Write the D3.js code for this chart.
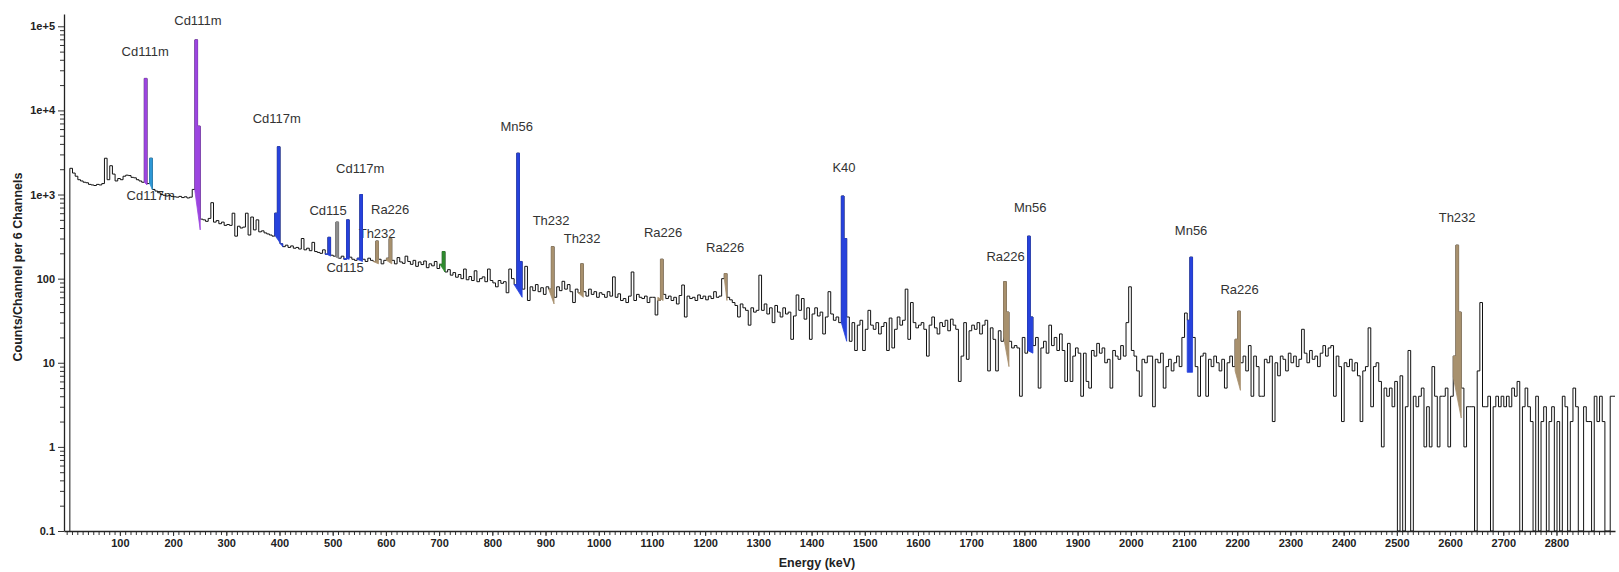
<!DOCTYPE html>
<html>
<head>
<meta charset="utf-8">
<script src="https://cdn.jsdelivr.net/npm/d3@7"></script>
<style>
	body { margin: 0; background: #fff; }
	svg { display: block; font-family: Arial, 'Liberation Sans', sans-serif; }
</style>
</head>
<body>
<svg id="canvas"></svg>
<script>
// spectrum: counts per 6 channels, 5 keV bins starting at 6 keV
const binStart = 6;
const binWidth = 5;
const counts = [
	// 6 - 106 keV
	2050, 1800, 1650, 1500, 1450, 1400, 1380, 1320, 1300, 1280, 1320, 1300, 1350, 2700, 1500, 2200, 1750, 1450, 1550, 1500,
	// 106 - 206
	1650, 1700, 1680, 1600, 1580, 1500, 1450, 1400, 24000, 1350, 2700, 1150, 1100, 1050, 1000, 980, 960, 970, 950, 940,
	// 206 - 306
	930, 950, 920, 940, 910, 930, 1150, 69000, 6500, 510, 500, 480, 520, 800, 470, 490, 450, 470, 430, 440,
	// 306 - 406
	430, 600, 320, 420, 400, 410, 600, 330, 540, 380, 500, 360, 370, 350, 340, 330, 320, 600, 3700, 260,
	// 406 - 506
	240, 250, 235, 245, 230, 235, 225, 300, 220, 230, 215, 270, 210, 205, 200, 220, 195, 310, 190, 185,
	// 506 - 606
	470, 175, 185, 170, 500, 180, 170, 165, 175, 1000, 170, 160, 175, 165, 160, 280, 170, 150, 165, 175,
	// 606 - 706
	300, 165, 150, 178, 158, 152, 185, 160, 148, 165, 140, 158, 147, 162, 135, 150, 142, 160, 132, 148,
	// 706 - 806
	210, 120, 128, 110, 118, 104, 112, 100, 130, 97, 106, 95, 124, 92, 100, 105, 92, 130, 95, 89,
	// 806 - 906
	80, 95, 88, 92, 68, 130, 100, 85, 3100, 160, 75, 140, 55, 80, 72, 85, 70, 78, 65, 80,
	// 906 - 1006
	75, 240, 60, 80, 72, 93, 75, 85, 70, 52, 75, 68, 150, 70, 62, 75, 65, 70, 60, 68,
	// 1006 - 1106
	65, 60, 70, 62, 105, 60, 66, 55, 58, 52, 62, 120, 55, 65, 60, 58, 62, 52, 60, 60,
	// 1106 - 1206
	37, 55, 170, 65, 58, 62, 55, 60, 50, 63, 84, 35, 62, 58, 60, 55, 64, 58, 62, 56,
	// 1206 - 1306
	62, 58, 70, 60, 62, 100, 115, 60, 56, 52, 48, 35, 50, 45, 42, 28, 45, 40, 42, 110,
	// 1306 - 1406
	42, 50, 38, 45, 30, 48, 40, 35, 45, 38, 40, 19, 36, 64, 42, 58, 33, 45, 19, 38,
	// 1406 - 1506
	45, 36, 40, 22, 35, 70, 38, 32, 35, 30, 960, 300, 35, 18, 30, 14, 28, 32, 14, 25,
	// 1506 - 1606
	42, 28, 25, 30, 22, 27, 30, 14, 34, 15, 25, 35, 28, 32, 75, 19, 52, 30, 26, 28,
	// 1606 - 1706
	30, 25, 12, 28, 35, 26, 22, 30, 27, 32, 24, 33, 28, 25, 6, 12, 30, 11, 24, 28,
	// 1706 - 1806
	25, 30, 22, 28, 32, 8, 26, 19, 8, 24, 18, 92, 40, 18, 15, 16, 15, 4, 20, 13,
	// 1806 - 1906
	320, 35, 16, 20, 5, 15, 18, 13, 28, 16, 20, 14, 22, 14, 6, 17, 6, 12, 15, 13,
	// 1906 - 2006
	4, 13, 6, 5, 14, 12, 17, 13, 15, 10, 11, 5, 14, 12, 11, 16, 12, 30, 80, 14,
	// 2006 - 2106
	12, 8, 4, 11, 10, 12, 12, 3, 11, 10, 13, 5, 9, 11, 8, 10, 12, 9, 20, 39,
	// 2106 - 2206
	32, 180, 20, 9, 4, 12, 13, 4, 11, 9, 12, 10, 8, 11, 5, 10, 12, 9, 19, 41,
	// 2206 - 2306
	10, 12, 8, 16, 4, 12, 9, 4, 4, 11, 10, 12, 2, 10, 7, 12, 11, 8, 13, 10,
	// 2306 - 2406
	12, 9, 11, 25, 13, 10, 14, 11, 12, 9, 13, 16, 12, 15, 16, 4, 12, 9, 2, 10,
	// 2406 - 2506
	9, 11, 8, 10, 7, 2, 8, 9, 26, 3, 9, 10, 6, 1, 5, 4, 5, 3, 6, 0,
	// 2506 - 2606
	7, 0, 3, 14, 0, 4, 3, 4, 5, 1, 3, 1, 9, 4, 1, 4, 4, 5, 1, 4,
	// 2606 - 2706
	12, 250, 40, 5, 1, 3, 3, 3, 0, 8, 52, 3, 3, 4, 0, 3, 4, 3, 4, 3,
	// 2706 - 2806
	4, 3, 5, 4, 6, 0, 3, 5, 3, 2, 0, 4, 0, 2, 3, 0, 2, 3, 0, 2,
	// 2806 - 2911
	0, 4, 3, 0, 2, 5, 3, 0, 0, 3, 2, 2, 0, 4, 2, 4, 2, 0, 0, 4, 4
];

// identified peak regions
const peakName = ['Cd111m', 'Cd117m', 'Cd111m', 'Cd117m', 'Cd115', '', 'Cd115', 'Cd117m', 'Th232', 'Ra226', '',
	'Mn56', 'Th232', 'Th232', 'Ra226', 'Ra226', 'K40', 'Ra226', 'Mn56', 'Mn56', 'Ra226', 'Th232'];
const peakGroup = ['cd111', 'cd117low', 'cd111', 'act', 'act', 'annih', 'act', 'act', 'nat', 'nat', 'other',
	'act', 'nat', 'nat', 'nat', 'nat', 'act', 'nat', 'act', 'act', 'nat', 'nat'];
const peakLo = [146, 156, 241, 391, 486, 506, 521, 546, 576, 601, 701, 841, 906, 961, 1111, 1236, 1456, 1761, 1806, 2106, 2196, 2606];
const peakHi = [151, 161, 251, 406, 496, 511, 531, 556, 586, 611, 711, 856, 916, 971, 1121, 1241, 1466, 1771, 1816, 2116, 2206, 2621];
const peakBaseLeft = [1400, 1350, 1100, 330, 200, 180, 175, 170, 160, 165, 150, 85, 75, 68, 60, 100, 30, 20, 14, 7.7, 8, 6.8];
const peakBaseRight = [1300, 1150, 380, 240, 185, 175, 170, 160, 150, 150, 120, 60, 50, 60, 55, 55, 18, 9, 13, 7.7, 4.7, 2.2];
// where each peak label sits, [keV, counts]
const labelAt = [[147.5, 43900], [157.9, 862], [246.6, 102600], [395, 7100], [491.4, 572], null, [523.4, 120],
	[551.6, 1807], [583.5, 305], [608, 588], null, [846, 5623], [910.5, 435], [968.8, 266], [1121, 313],
	[1237.6, 205], [1461, 1832], [1764.7, 160], [1810.8, 621], [2113.3, 331], [2204.5, 65.8], [2613.3, 472]];

// axis ticks
const xTickValues = d3.range(100, 2900, 100);
const yTickValues = [0.1, 1, 10, 100, 1000, 10000, 100000];
const yTickLabels = ['0.1', '1', '10', '100', '1e+3', '1e+4', '1e+5'];

const w = 1619;
const h = 572;

const svg = d3.select('#canvas').attr('width', w).attr('height', h);

const x = d3.scaleLinear().domain([-5, 2910]).range([64, 1615]);
const y = d3.scaleLog().domain([0.1, 1.4e5]).range([531, 14]);

const color = d3
	.scaleOrdinal()
	.domain(['cd111', 'cd117low', 'act', 'annih', 'other', 'nat'])
	.range(['#9c45e0', '#2f98d6', '#2742dc', '#8c8c8c', '#2e8b2e', '#a8916e']);

const floor = (c) => Math.max(c, 0.1);

// peak labels go under the spectrum line
svg
	.append('g')
	.selectAll('text')
	.data(peakName.map((name, i) => ({ name, at: labelAt[i] })).filter((d) => d.at))
	.enter()
	.append('text')
	.attr('x', (d) => x(d.at[0]))
	.attr('y', (d) => y(d.at[1]))
	.attr('text-anchor', 'middle')
	.attr('font-size', 13)
	.attr('fill', '#333')
	.text((d) => d.name);

// spectrum
const points = [[binStart, 0.1]];
counts.forEach((c, i) => points.push([binStart + i * binWidth, floor(c)]));
points.push([binStart + counts.length * binWidth, floor(counts[counts.length - 1])]);

svg.append('clipPath').attr('id', 'plot').append('rect').attr('x', 64).attr('y', 14).attr('width', 1551).attr('height', 517);

const line = d3.line().curve(d3.curveStepAfter).x((d) => x(d[0])).y((d) => y(d[1]));

svg
	.append('path')
	.attr('clip-path', 'url(#plot)')
	.attr('d', line(points))
	.attr('fill', 'none')
	.attr('stroke', '#111')
	.attr('stroke-width', 1);

// coloured peak regions
peakLo.forEach((lo, i) => {
	const hi = peakHi[i];
	const p = d3.path();
	p.moveTo(x(lo), y(peakBaseLeft[i]));
	counts.forEach((c, j) => {
		const e = binStart + j * binWidth;
		if (e >= lo && e < hi) {
			p.lineTo(x(e), y(floor(c)));
			p.lineTo(x(e + binWidth), y(floor(c)));
		}
	});
	p.lineTo(x(hi), y(peakBaseRight[i]));
	p.closePath();
	svg
		.append('path')
		.attr('d', p.toString())
		.attr('fill', color(peakGroup[i]))
		.attr('stroke', color(peakGroup[i]))
		.attr('stroke-width', 0.8)
		.attr('stroke-linejoin', 'round');
});

// x axis
svg
	.append('g')
	.attr('transform', 'translate(0,531)')
	.call(d3.axisBottom(x).tickValues(d3.range(0, 2910, 10)).tickSize(4).tickSizeOuter(0).tickFormat(''))
	.call((g) => g.select('.domain').remove());

svg
	.append('g')
	.attr('transform', 'translate(0,531)')
	.call(d3.axisBottom(x).tickValues(xTickValues).tickSize(5).tickSizeOuter(0).tickFormat(d3.format('d')))
	.call((g) => g.selectAll('text').attr('font-size', 11).attr('font-weight', 'bold').attr('fill', '#222'));

// y axis
const yMinor = [];
yTickValues.forEach((v) => {
	for (let m = 2; m < 10; m++) {
		if (v * m < 1.4e5) yMinor.push(v * m);
	}
});

svg
	.append('g')
	.attr('transform', 'translate(64,0)')
	.call(d3.axisLeft(y).tickValues(yMinor).tickSize(4).tickSizeOuter(0).tickFormat(''))
	.call((g) => g.select('.domain').remove());

svg
	.append('g')
	.attr('transform', 'translate(64,0)')
	.call(
		d3.axisLeft(y).tickValues(yTickValues).tickSize(6).tickSizeOuter(0).tickFormat((d, i) => yTickLabels[i])
	)
	.call((g) => g.selectAll('text').attr('font-size', 11).attr('font-weight', 'bold').attr('fill', '#222'));

svg.selectAll('.domain').attr('stroke', '#222').attr('stroke-width', 1.3);
svg.selectAll('.tick line').attr('stroke', '#333');

// axis titles
svg
	.append('text')
	.attr('x', 817)
	.attr('y', 567)
	.attr('text-anchor', 'middle')
	.attr('font-size', 12.5)
	.attr('font-weight', 'bold')
	.attr('fill', '#222')
	.text('Energy (keV)');

svg
	.append('text')
	.attr('transform', 'translate(22,267) rotate(-90)')
	.attr('text-anchor', 'middle')
	.attr('font-size', 12.5)
	.attr('font-weight', 'bold')
	.attr('fill', '#222')
	.text('Counts/Channel per 6 Channels');
</script>
</body>
</html>
